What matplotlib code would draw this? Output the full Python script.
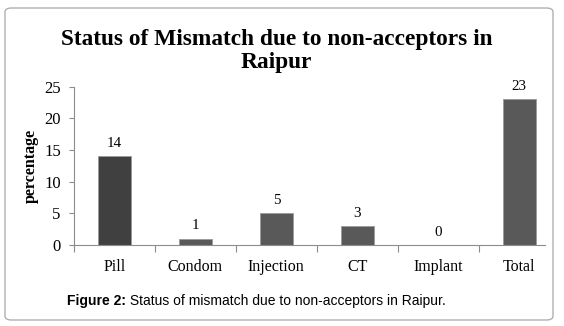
import matplotlib
matplotlib.use("Agg")
import matplotlib.pyplot as plt
from matplotlib.patches import FancyBboxPatch

categories = ["Pill", "Condom", "Injection", "CT", "Implant", "Total"]
values = [14, 1, 5, 3, 0, 23]
bar_colors = ["#404040", "#595959", "#595959", "#595959", "#595959", "#595959"]
title = "Status of Mismatch due to non-acceptors in\nRaipur"
ylabel = "percentage"
caption_bold = "Figure 2:"
caption_rest = " Status of mismatch due to non-acceptors in Raipur."

W, H = 564, 326
fig = plt.figure(figsize=(W / 100, H / 100), dpi=100)
fig.patch.set_facecolor("white")

# rounded border
box = FancyBboxPatch((5 / W, 6 / H), (553 - 5) / W, (318 - 6) / H,
                     boxstyle="round,pad=0,rounding_size=0.012",
                     transform=fig.transFigure, facecolor="white",
                     edgecolor="#b0b0b0", linewidth=1.0, zorder=-10)
fig.patches.append(box)

ax = fig.add_axes([74 / W, (H - 245) / H, (545 - 74) / W, (245 - 86.7) / H])
ax.set_facecolor("none")
ax.set_zorder(5)
x = list(range(len(categories)))
ax.bar(x, values, width=0.41, color=bar_colors, edgecolor="#9a9a9a", linewidth=0.6)
ax.set_xlim(-0.5, 5.32)
ax.set_ylim(0, 25)
ax.set_yticks([0, 5, 10, 15, 20, 25])

serif = "Liberation Serif"
ax.set_xticks(x)
ax.set_xticklabels(categories, fontfamily=serif, fontsize=11.5)
ax.set_yticklabels([str(v) for v in [0, 5, 10, 15, 20, 25]], fontfamily=serif, fontsize=12)
ax.tick_params(axis="x", length=0, pad=10)
ax.tick_params(axis="y", length=3.5, width=0.8, color="#8c8c8c", pad=6)
# category boundary ticks
ax.set_xticks([i - 0.5 for i in range(1, 6)] + [-0.5], minor=True)
ax.tick_params(axis="x", which="minor", length=5, width=0.8, color="#8c8c8c")

for s in ["top", "right"]:
    ax.spines[s].set_visible(False)
for s in ["left", "bottom"]:
    ax.spines[s].set_color("#8c8c8c")
    ax.spines[s].set_linewidth(0.8)

for xi, v in zip(x, values):
    ax.annotate(str(v), (xi, v), xytext=(0, 4.5), textcoords="offset points",
                ha="center", va="bottom", fontfamily=serif, fontsize=10.8)

ax.set_ylabel(ylabel, fontfamily=serif, fontweight="bold", fontsize=11.5, labelpad=4)

fig.text(0.49, (H - 51) / H, title, ha="center", va="center", fontfamily=serif,
         fontweight="bold", fontsize=16.8, linespacing=1.12)

# caption with bold prefix
cap_y = (H - 301) / H
fig.canvas.draw()
r = fig.canvas.get_renderer()
t1 = fig.text(0, cap_y, caption_bold, fontfamily="Liberation Sans", fontweight="bold",
              fontsize=10, va="center", ha="left")
t2 = fig.text(0, cap_y, caption_rest, fontfamily="Liberation Sans",
              fontsize=10, va="center", ha="left")
w1 = t1.get_window_extent(r).width
w2 = t2.get_window_extent(r).width
start = 256 - (w1 + w2) / 2
t1.set_x(start / W)
t2.set_x((start + w1) / W)

fig.savefig("out.png", dpi=100)
